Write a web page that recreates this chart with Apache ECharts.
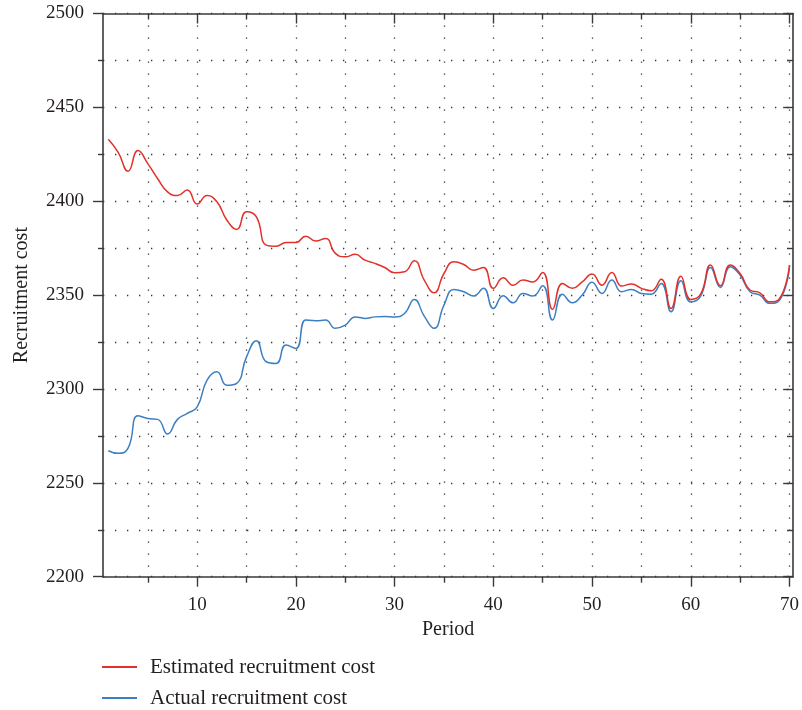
<!DOCTYPE html>
<html>
<head>
<meta charset="utf-8">
<script src="https://cdn.jsdelivr.net/npm/echarts@6/dist/echarts.min.js"></script>
<style>
  html, body { margin: 0; padding: 0; background: #fff; }
  #chart { width: 802px; height: 710px; }
</style>
</head>
<body>
<div id="chart"></div>
<script>
// Period index 1..70
const periods = Array.from({ length: 70 }, (_, i) => i + 1);

const estimatedCost = [
  2433, 2426, 2416, 2427, 2420, 2412, 2405, 2403, 2406, 2398.5,
  2403, 2399.7, 2390, 2385, 2394.4, 2391.7, 2376.6, 2376, 2378, 2378,
  2381.4, 2378.8, 2380.2, 2372.2, 2370.4, 2371.7, 2368.6, 2366.9, 2364.7, 2361.9,
  2362.4, 2368.3, 2358, 2351.2, 2361.5, 2367.7, 2366.3, 2363.3, 2364.7, 2353.6,
  2359.2, 2355.3, 2358, 2357, 2362, 2342.4, 2356.2, 2353.6, 2357, 2361.2,
  2355.3, 2362.1, 2354.8, 2355.9, 2353.6, 2352.3, 2358.4, 2342.9, 2360.1, 2347.7,
  2350.5, 2366, 2355, 2366, 2361.5, 2352.7, 2351.2, 2346.4, 2348.2, 2366
];

const actualCost = [
  2267.1, 2265.7, 2268.5, 2285.7, 2284.3, 2283.8, 2276, 2283.8, 2287, 2290.5,
  2304.7, 2309.2, 2302, 2303, 2317.1, 2325.7, 2314.5, 2313.6, 2323.4, 2321.6,
  2336.7, 2336.3, 2336.7, 2332.3, 2334, 2338.4, 2337.6, 2338.4, 2338.6, 2338.4,
  2340.2, 2347.7, 2338.8, 2332.3, 2344.7, 2353, 2351.8, 2349.5, 2353.6, 2342.9,
  2349.6, 2345.9, 2350.9, 2349.5, 2355, 2336.7, 2350.5, 2345.9, 2350, 2356.8,
  2350.9, 2358, 2351.8, 2353, 2350.9, 2350.5, 2356.2, 2341.1, 2357.6, 2346.4,
  2349.5, 2364.7, 2354.1, 2365.1, 2360.6, 2351.8, 2350, 2345.6, 2347.3, 2364.7
];

const xMajorTicks = [10, 20, 30, 40, 50, 60, 70];
const xMinorTicks = [5, 15, 25, 35, 45, 55, 65];
const seriesNames = ['Estimated recruitment cost', 'Actual recruitment cost'];

const X_MIN = 0.46, X_MAX = 70.37;
const FONT = '"Liberation Serif", "Times New Roman", serif';
const INK = '#231f20';
const AXIS_LINE = { show: true, lineStyle: { color: '#3a3a3a', width: 1.6 } };
const TICK_STYLE = { color: '#3a3a3a', width: 1.4 };
const DOTTED = { color: '#333333', width: 1.3, type: [1.3, 10.7] };

function pairSeries(values) {
  return periods.map((p, i) => [p, values[i]]);
}

const chart = echarts.init(document.getElementById('chart'), null, { renderer: 'canvas' });

chart.setOption({
  animation: false,
  backgroundColor: '#fff',
  grid: { left: 103, right: 5, top: 13.5, bottom: 133.3, containLabel: false },
  legend: {
    orient: 'vertical',
    left: 102,
    top: 656,
    padding: 0,
    itemGap: 9,
    itemWidth: 35,
    itemHeight: 2,
    icon: 'rect',
    data: seriesNames,
    textStyle: { fontFamily: FONT, fontSize: 21, color: INK, lineHeight: 22, padding: [0, 0, 0, 8] }
  },
  xAxis: [
    {
      type: 'value', position: 'bottom', min: X_MIN, max: X_MAX,
      name: 'Period', nameLocation: 'middle', nameGap: 42,
      nameTextStyle: { fontFamily: FONT, fontSize: 20, color: INK },
      axisLine: AXIS_LINE,
      axisTick: { show: true, inside: false, length: 10, customValues: xMajorTicks, lineStyle: TICK_STYLE },
      axisLabel: { show: true, customValues: xMajorTicks, margin: 19, fontFamily: FONT, fontSize: 19, color: INK },
      splitLine: { show: true, lineStyle: DOTTED }
    },
    {
      type: 'value', position: 'bottom', min: X_MIN, max: X_MAX,
      axisLine: { show: false },
      axisTick: { show: true, inside: false, length: 6, customValues: xMinorTicks, lineStyle: TICK_STYLE },
      axisLabel: { show: false },
      splitLine: { show: true, lineStyle: DOTTED }
    },
    {
      type: 'value', position: 'top', min: X_MIN, max: X_MAX,
      axisLine: AXIS_LINE,
      axisTick: { show: true, inside: true, length: 10, customValues: xMajorTicks, lineStyle: TICK_STYLE },
      axisLabel: { show: false },
      splitLine: { show: false }
    },
    {
      type: 'value', position: 'top', min: X_MIN, max: X_MAX,
      axisLine: { show: false },
      axisTick: { show: true, inside: true, length: 6, customValues: xMinorTicks, lineStyle: TICK_STYLE },
      axisLabel: { show: false },
      splitLine: { show: false }
    }
  ],
  yAxis: [
    {
      type: 'value', position: 'left', min: 2200, max: 2500, interval: 50,
      name: 'Recruitment cost', nameLocation: 'middle', nameGap: 71,
      nameTextStyle: { fontFamily: FONT, fontSize: 20, color: INK },
      axisLine: AXIS_LINE,
      axisTick: { show: true, inside: false, length: 10, lineStyle: TICK_STYLE },
      minorTick: { show: true, splitNumber: 2, length: 5, lineStyle: TICK_STYLE },
      axisLabel: {
        margin: 19, fontFamily: FONT, fontSize: 19, color: INK,
        formatter: (v) => String(v)
      },
      splitLine: { show: true, lineStyle: DOTTED },
      minorSplitLine: { show: true, lineStyle: DOTTED }
    },
    {
      type: 'value', position: 'right', min: 2200, max: 2500, interval: 50,
      axisLine: AXIS_LINE,
      axisTick: { show: true, inside: true, length: 10, lineStyle: TICK_STYLE },
      minorTick: { show: true, splitNumber: 2, length: 5, lineStyle: TICK_STYLE },
      axisLabel: { show: false },
      splitLine: { show: false },
      minorSplitLine: { show: false }
    }
  ],
  series: [
    {
      name: seriesNames[0], type: 'line', xAxisIndex: 0, yAxisIndex: 0,
      data: pairSeries(estimatedCost), smooth: 0.5, showSymbol: false,
      itemStyle: { color: '#e0322a' },
      lineStyle: { color: '#e0322a', width: 1.5 },
      z: 3
    },
    {
      name: seriesNames[1], type: 'line', xAxisIndex: 0, yAxisIndex: 0,
      data: pairSeries(actualCost), smooth: 0.5, showSymbol: false,
      itemStyle: { color: '#3c7fc2' },
      lineStyle: { color: '#3c7fc2', width: 1.5 },
      z: 2
    }
  ]
});
</script>
</body>
</html>
